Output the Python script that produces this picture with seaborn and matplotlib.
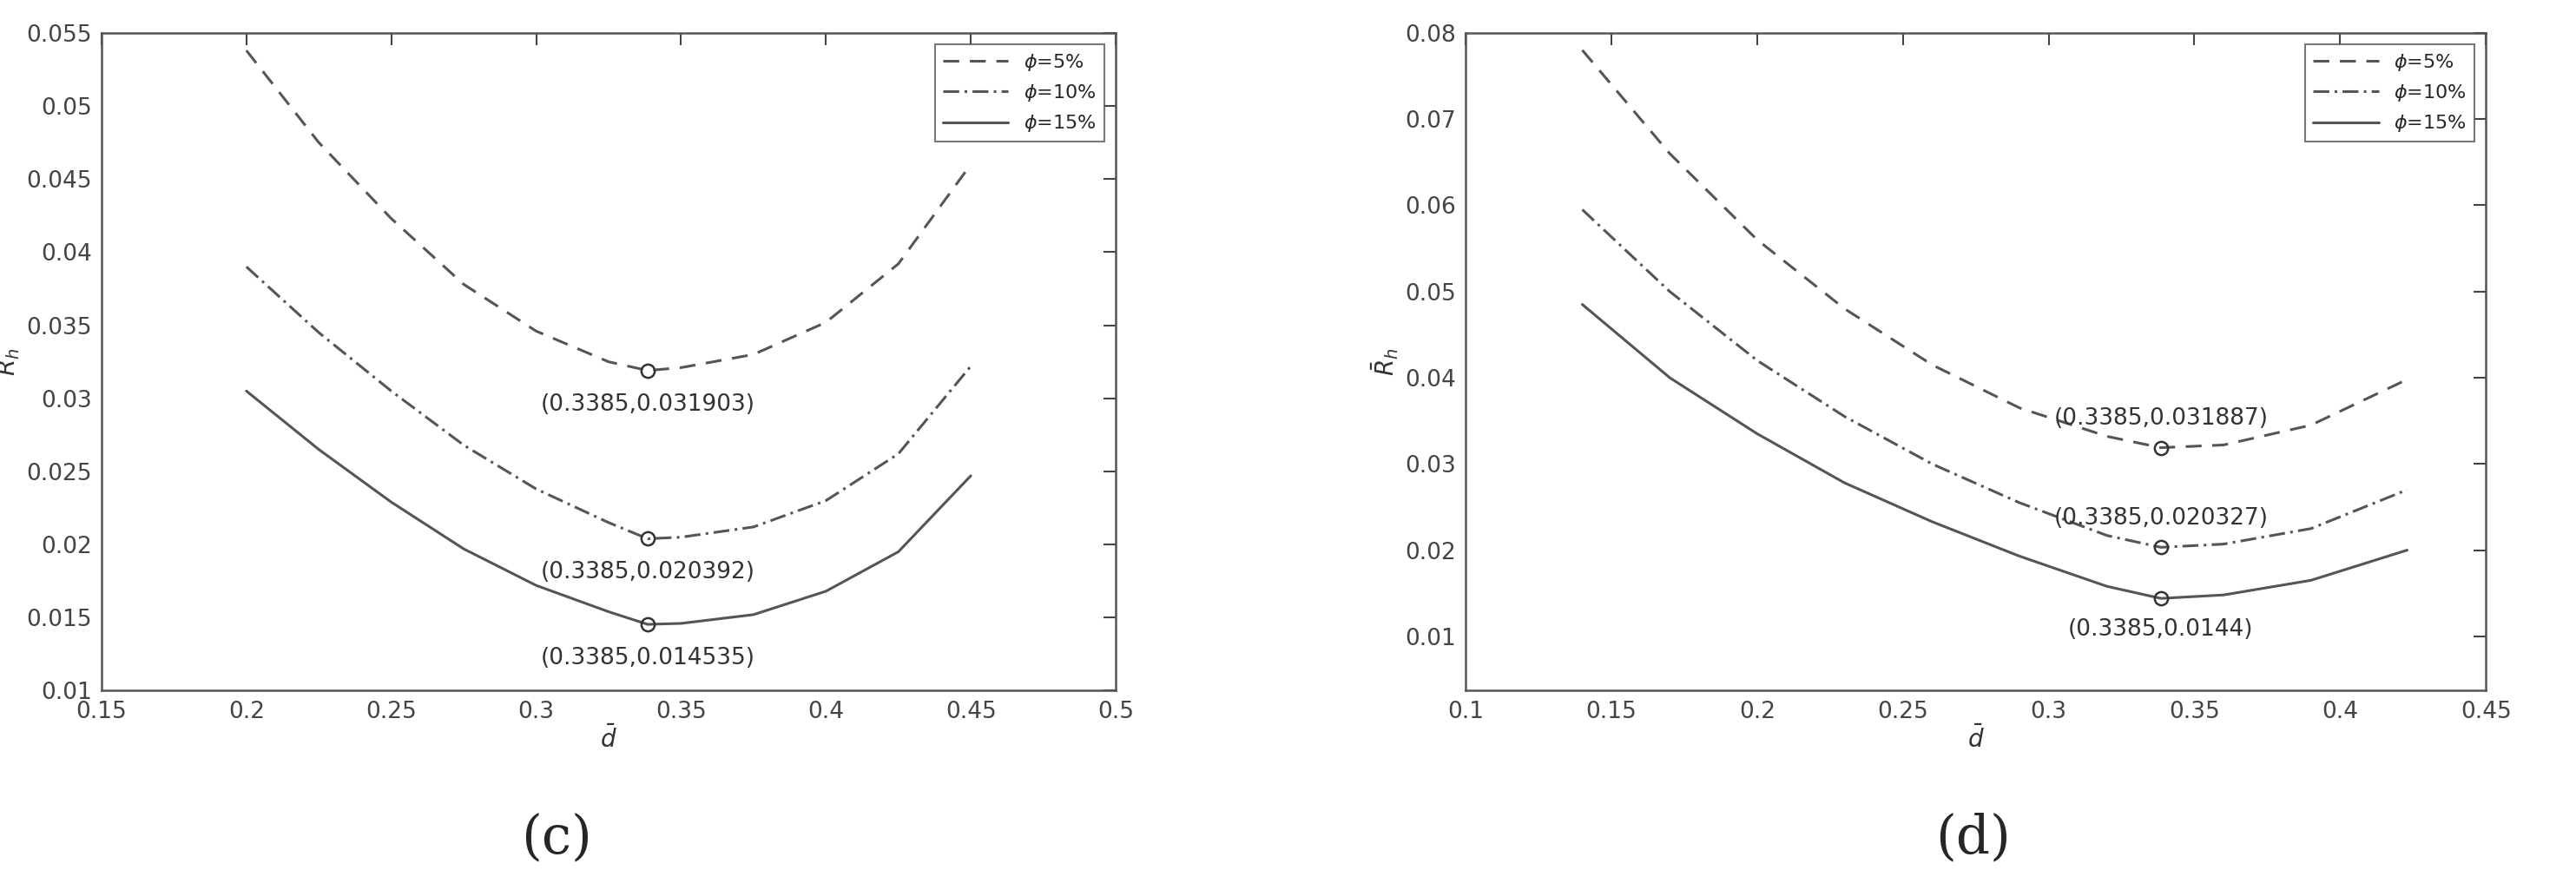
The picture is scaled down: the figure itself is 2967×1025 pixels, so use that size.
import matplotlib
matplotlib.use("Agg")
import matplotlib.pyplot as plt
import seaborn as sns
import pandas as pd

sns.set_style("white")
plt.rcParams['font.family'] = ['DejaVu Sans']

xc = [0.2, 0.225, 0.25, 0.275, 0.3, 0.325, 0.3385, 0.35, 0.375, 0.4, 0.425, 0.45]
c5 = [0.0538, 0.0475, 0.0423, 0.0378, 0.0346, 0.0325, 0.031903, 0.0321, 0.0330, 0.0352, 0.0392, 0.0460]
c10 = [0.039, 0.0345, 0.0305, 0.0268, 0.0238, 0.0215, 0.020392, 0.0205, 0.0212, 0.0230, 0.0262, 0.0322]
c15 = [0.0305, 0.0265, 0.0229, 0.0197, 0.0172, 0.0154, 0.014535, 0.0146, 0.0152, 0.0168, 0.0195, 0.0247]

xd = [0.14, 0.17, 0.2, 0.23, 0.26, 0.29, 0.32, 0.3385, 0.36, 0.39, 0.423]
d5 = [0.078, 0.066, 0.056, 0.048, 0.0415, 0.0365, 0.0332, 0.031887, 0.0322, 0.0345, 0.0398]
d10 = [0.0595, 0.050, 0.042, 0.0355, 0.030, 0.0255, 0.0217, 0.020327, 0.0207, 0.0225, 0.027]
d15 = [0.0485, 0.040, 0.0335, 0.0278, 0.0233, 0.0193, 0.0158, 0.0144, 0.0148, 0.0165, 0.020]

labels = ["$\\phi$=5%", "$\\phi$=10%", "$\\phi$=15%"]
styles = [(0, (6, 4)), (0, (6, 2, 1, 2)), "-"]
xmin = 0.3385
c_min = [0.031903, 0.020392, 0.014535]
d_min = [0.031887, 0.020327, 0.0144]

fig = plt.figure(figsize=(29.67, 10.25), dpi=100)
ax1 = fig.add_axes([0.0394, 0.224, 0.3937, 0.739])
ax2 = fig.add_axes([0.569, 0.224, 0.396, 0.739])

def draw(ax, x, ys, mins, offs, xlim, ylim, yticks, xticks):
    for y, lab, ls in zip(ys, labels, styles):
        df = pd.DataFrame({"x": x, "y": y})
        sns.lineplot(data=df, x="x", y="y", ax=ax, color="#555555", lw=2.2,
                     linestyle=ls, label=lab, sort=True)
    for m, off in zip(mins, offs):
        ax.plot([xmin], [m], 'o', mfc='none', mec='#333333', ms=11, mew=1.8)
        ax.annotate(f"({xmin},{m:g})", (xmin, m), xytext=(0, off), textcoords="offset points",
                    ha="center", va="center", fontsize=19, color="#333333")
    ax.set_xlim(*xlim); ax.set_ylim(*ylim)
    ax.set_xticks(xticks); ax.set_yticks(yticks)
    ax.set_xticklabels([f"{t:g}" for t in xticks])
    ax.set_yticklabels([f"{t:g}" for t in yticks])
    ax.tick_params(direction="in", length=10, width=1.5, labelsize=19, colors="#444444",
                   top=True, right=True, pad=8)
    for s in ax.spines.values():
        s.set_color("#555555"); s.set_linewidth(1.8)
    ax.set_xlabel("$\\bar{d}$", fontsize=20, color="#333333", labelpad=2)
    ax.set_ylabel("$\\bar{R}_h$", fontsize=20, color="#333333", labelpad=4)
    leg = ax.legend(loc="upper right", fontsize=16, frameon=True, fancybox=False,
                    edgecolor="#555555", handlelength=3.4, borderaxespad=0.6)
    leg.get_frame().set_linewidth(1.5)

draw(ax1, xc, [c5, c10, c15], c_min, [-28, -28, -28], (0.15, 0.5), (0.01, 0.055),
     [0.01 + 0.005 * i for i in range(10)], [0.15 + 0.05 * i for i in range(8)])
draw(ax2, xd, [d5, d10, d15], d_min, [24, 24, -26], (0.1, 0.45), (0.0037, 0.08),
     [0.01 * i for i in range(1, 9)], [0.1 + 0.05 * i for i in range(8)])

fig.text(0.216, 0.058, "(c)", ha="center", va="center", fontsize=44, family="DejaVu Serif")
fig.text(0.766, 0.058, "(d)", ha="center", va="center", fontsize=44, family="DejaVu Serif")
fig.savefig("out.png", dpi=100)
